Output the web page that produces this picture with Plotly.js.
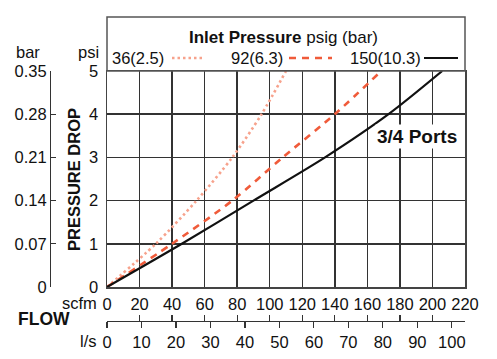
<!DOCTYPE html>
<html><head><meta charset="utf-8">
<script src="https://cdn.plot.ly/plotly-3.0.1.min.js"></script>
<style>html,body{margin:0;padding:0;background:#fff}</style>
</head><body><div id="chart" style="width:497px;height:359px"></div>
<script>
// ---- data ----
const psiLevels = [0, 1, 2, 3, 4, 5];
const flow36 = [0, 30, 55, 77, 95, 110];      // scfm at each psi drop, 36 psig (2.5 bar)
const flow92 = [0, 40, 77, 108, 140, 168.5];  // 92 psig (6.3 bar)
const flow150 = [0, 46, 90, 134, 173, 206];   // 150 psig (10.3 bar)
const seriesNames = ['36(2.5)', '92(6.3)', '150(10.3)'];
const scfmTicks = [0, 20, 40, 60, 80, 100, 120, 140, 160, 180, 200, 220];
const lsTicks = [0, 10, 20, 30, 40, 50, 60, 70, 80, 90, 100];
const barTicks = [0, 0.07, 0.14, 0.21, 0.28, 0.35];
const barLabels = ['0', '0.07', '0.14', '0.21', '0.28', '0.35'];
const scfmToLs = 0.4719474;

// ---- layout helpers (pixel -> paper) ----
const W = 497, H = 359, ML = 40, MR = 32, MT = 71, MB = 29;
const PW = W - ML - MR, PH = H - MT - MB;
const px = x => (x - ML) / PW;
const py = y => (H - MB - y) / PH;
const FONT = 'Liberation Sans, Arial, Helvetica, sans-serif';
const C_DOT = '#f7a28c', C_DASH = '#f05b3a', C_SOLID = '#111111';

const traces = [
  {x: flow36, y: psiLevels, name: seriesNames[0], mode: 'lines',
   line: {color: C_DOT, width: 2.6, dash: '2.5px,3px', shape: 'spline', smoothing: 0.8}},
  {x: flow92, y: psiLevels, name: seriesNames[1], mode: 'lines',
   line: {color: C_DASH, width: 2.6, dash: '7px,6px', shape: 'spline', smoothing: 0.8}},
  {x: flow150, y: psiLevels, name: seriesNames[2], mode: 'lines',
   line: {color: C_SOLID, width: 2.2, shape: 'spline', smoothing: 0.8}},
  // empty helper traces so the secondary (l/s, scfm-tick, bar) axes are drawn
  {x: [], y: [], xaxis: 'x2', yaxis: 'y', mode: 'lines', hoverinfo: 'skip'},
  {x: [], y: [], xaxis: 'x3', yaxis: 'y', mode: 'lines', hoverinfo: 'skip'},
  {x: [], y: [], xaxis: 'x', yaxis: 'y2', mode: 'lines', hoverinfo: 'skip'}
];

const tf = {family: FONT, size: 16.5, color: '#111'};
const layout = {
  width: W, height: H,
  margin: {l: ML, r: MR, t: MT, b: MB, pad: 0},
  paper_bgcolor: '#fff', plot_bgcolor: '#fff',
  showlegend: false,
  font: {family: FONT, color: '#111'},
  xaxis: {domain: [px(107), 1], range: [0, 220], tickvals: scfmTicks, ticks: '',
    showgrid: true, gridcolor: '#333', gridwidth: 1.5, zeroline: false,
    showline: true, mirror: true, linecolor: '#444', linewidth: 1.5,
    tickfont: tf, ticklabelstandoff: 2, fixedrange: true},
  xaxis2: {overlaying: 'x', anchor: 'free', position: py(321), side: 'bottom',
    range: [0, 220 * scfmToLs], tickvals: lsTicks, ticks: 'outside', ticklen: 6, tickwidth: 1.2,
    tickcolor: '#333', showline: true, linecolor: '#333', linewidth: 1.2,
    showgrid: false, zeroline: false, tickfont: tf},
  xaxis3: {overlaying: 'x', anchor: 'free', position: py(321), side: 'bottom',
    range: [0, 220], tickvals: scfmTicks, ticks: 'inside', ticklen: 6, tickwidth: 1.2,
    tickcolor: '#333', showticklabels: false, showline: false,
    showgrid: false, zeroline: false},
  yaxis: {domain: [py(287), 1], range: [0, 5], tickvals: psiLevels, ticks: '',
    showgrid: true, gridcolor: '#333', gridwidth: 1.5, zeroline: false,
    showline: true, mirror: true, linecolor: '#444', linewidth: 1.5,
    tickfont: tf, ticklabelstandoff: 4, fixedrange: true},
  yaxis2: {overlaying: 'y', anchor: 'free', position: px(50), side: 'left',
    range: [0, 0.35], tickvals: barTicks, ticktext: barLabels, ticks: 'inside',
    ticklen: 5, tickwidth: 1.2, tickcolor: '#333', showline: true, linecolor: '#333',
    linewidth: 1.2, showgrid: false, zeroline: false, tickfont: tf},
  shapes: [
    {type: 'rect', xref: 'paper', yref: 'paper', x0: px(107), x1: px(465), y0: py(71), y1: py(17),
     line: {color: '#555', width: 1.5}},
    {type: 'line', xref: 'paper', yref: 'paper', x0: px(172), x1: px(203), y0: py(58), y1: py(58),
     line: {color: C_DOT, width: 2.6, dash: '2.5px,3px'}},
    {type: 'line', xref: 'paper', yref: 'paper', x0: px(289), x1: px(332), y0: py(58), y1: py(58),
     line: {color: C_DASH, width: 2.6, dash: '7px,6px'}},
    {type: 'line', xref: 'paper', yref: 'paper', x0: px(424), x1: px(458), y0: py(58), y1: py(58),
     line: {color: C_SOLID, width: 2.2}}
  ],
  annotations: [
    {text: '<b>Inlet Pressure</b> psig (bar)', xref: 'paper', yref: 'paper', x: px(283), y: py(37),
     xanchor: 'center', yanchor: 'middle', showarrow: false, font: {family: FONT, size: 17, color: '#111'}},
    {text: seriesNames[0], xref: 'paper', yref: 'paper', x: px(110), y: py(58),
     xanchor: 'left', yanchor: 'middle', showarrow: false, font: tf},
    {text: seriesNames[1], xref: 'paper', yref: 'paper', x: px(229), y: py(58),
     xanchor: 'left', yanchor: 'middle', showarrow: false, font: tf},
    {text: seriesNames[2], xref: 'paper', yref: 'paper', x: px(348), y: py(58),
     xanchor: 'left', yanchor: 'middle', showarrow: false, font: tf},
    {text: 'psi', xref: 'paper', yref: 'paper', x: px(101), y: py(52),
     xanchor: 'right', yanchor: 'middle', showarrow: false, font: tf},
    {text: 'bar', xref: 'paper', yref: 'paper', x: px(28), y: py(52),
     xanchor: 'center', yanchor: 'middle', showarrow: false, font: tf},
    {text: '<b>PRESSURE DROP</b>', xref: 'paper', yref: 'paper', x: px(74), y: py(180),
     xanchor: 'center', yanchor: 'middle', textangle: -90, showarrow: false,
     font: {family: FONT, size: 16.5, color: '#111'}},
    {text: 'scfm', xref: 'paper', yref: 'paper', x: px(99), y: py(303),
     xanchor: 'right', yanchor: 'middle', showarrow: false, font: tf},
    {text: 'l/s', xref: 'paper', yref: 'paper', x: px(99), y: py(341),
     xanchor: 'right', yanchor: 'middle', showarrow: false, font: tf},
    {text: '<b>FLOW</b>', xref: 'paper', yref: 'paper', x: px(44), y: py(319),
     xanchor: 'center', yanchor: 'middle', showarrow: false, font: {family: FONT, size: 17.5, color: '#111'}},
    {text: '<b>3/4 Ports</b>', xref: 'paper', yref: 'paper', x: px(417), y: py(136),
     xanchor: 'center', yanchor: 'middle', showarrow: false, bgcolor: '#fff', borderpad: 1,
     font: {family: FONT, size: 19, color: '#111'}}
  ]
};

Plotly.newPlot('chart', traces, layout, {staticPlot: true, displayModeBar: false});
</script>
</body></html>
